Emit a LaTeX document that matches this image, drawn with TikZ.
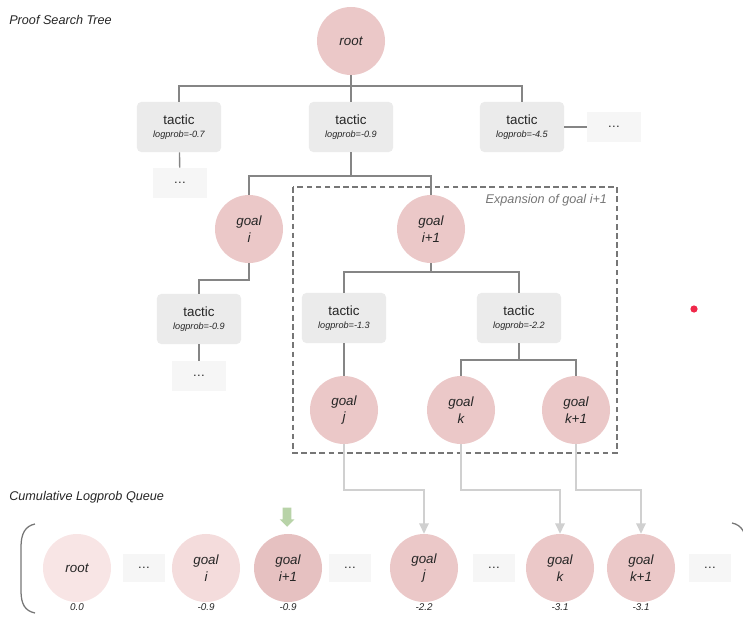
\documentclass[tikz,border=0pt]{standalone}
\usepackage{fontspec}
\setmainfont{Liberation Sans}
\usepackage{xcolor}
\usetikzlibrary{arrows.meta,positioning,calc,shapes.arrows}
\definecolor{goalpink}{HTML}{EBC8C8}
\definecolor{qpale}{HTML}{F8E5E5}
\definecolor{qlight}{HTML}{F4DCDC}
\definecolor{qdark}{HTML}{E6C1C1}
\definecolor{tacgray}{HTML}{EBEBEB}
\definecolor{dotsgray}{HTML}{F6F6F6}
\definecolor{edgegray}{HTML}{858585}
\definecolor{feedgray}{HTML}{D0D0D0}
\definecolor{ink}{HTML}{262626}
\definecolor{softgray}{HTML}{767676}
\definecolor{pickgreen}{HTML}{B8D3A8}
\definecolor{laser}{HTML}{F0284A}
\newcommand{\lp}[1]{\\[-1pt]{\fontsize{6.5}{7}\selectfont\itshape logprob=#1}}

\begin{document}
\begin{tikzpicture}[x=0.025cm, y=-0.025cm]

% pixel grid of the reference, y pointing down
\clip (0,0) rectangle (743,619);
\tikzset{
  goal/.style={circle, fill=goalpink, minimum size=1.7cm, inner sep=0pt, align=center,
               font=\fontsize{9.5}{12}\selectfont\itshape, text=ink},
  tacbox/.style={rounded corners=3pt, fill=tacgray, minimum width=2.1cm, minimum height=1.25cm,
                 align=center, font=\fontsize{9.5}{10}\selectfont, text=ink},
  dotsbox/.style={fill=dotsgray, minimum width=1.35cm, minimum height=0.75cm, inner sep=0pt,
                  font=\fontsize{9}{10}\selectfont, text=ink},
  qdots/.style={dotsbox, minimum width=1.05cm, minimum height=0.7cm},
  treeedge/.style={draw=edgegray, line width=1pt},
  feed/.style={draw=feedgray, line width=1pt, -{Triangle[length=2.6mm, width=2.4mm]}},
  logval/.style={font=\fontsize{7}{8}\selectfont\itshape, text=ink},
  sectitle/.style={font=\fontsize{9}{10}\selectfont\itshape, text=ink, anchor=west, inner sep=0pt}}

% section titles
\node[sectitle] (ttree) at (9,20) {Proof Search Tree};
\node[sectitle] (tqueue) at (9,497) {Cumulative Logprob Queue};

% expansion frame
\draw[softgray, line width=0.9pt, dash pattern=on 4pt off 2.5pt] (293,187) rectangle (617,453);
\node[anchor=north east, font=\fontsize{9}{10}\selectfont\itshape, text=softgray] (texp) at (612,189) {Expansion of goal i+1};

% level 0 / 1
\node[goal] (root) at (351,41) {root};
\node[tacbox] (tac1) at (179,127) {tactic\lp{-0.7}};
\node[tacbox] (tac2) at (351,127) {tactic\lp{-0.9}};
\node[tacbox] (tac3) at (522,127) {tactic\lp{-4.5}};
\node[dotsbox] (d1) at (614,127) {\dots};
\node[dotsbox] (d0) at (180,183) {\dots};
\coordinate (br0) at (351,86);
\draw[treeedge] (root) -- (br0) -| (tac1);
\draw[treeedge] (br0) -| (tac3);
\draw[treeedge] (br0) -- (tac2);
\draw[treeedge] (tac3) -- (d1);
\draw[treeedge] (tac1) -- (d0);

% level 2: goals of the middle tactic
\node[goal] (gi) at (249,229) {goal\\i};
\node[goal] (gi1) at (431,229) {goal\\i+1};
\coordinate (br1) at (351,176);
\draw[treeedge] (tac2) -- (br1) -| (gi);
\draw[treeedge] (br1) -| (gi1);

% left branch under goal i
\node[tacbox] (tacgi) at (199,319) {tactic\lp{-0.9}};
\node[dotsbox] (d2) at (199,376) {\dots};
\coordinate (br2) at (249,280);
\draw[treeedge] (gi) -- (br2) -| (tacgi);
\draw[treeedge] (tacgi) -- (d2);

% expansion of goal i+1
\node[tacbox] (tacj) at (344,318) {tactic\lp{-1.3}};
\node[tacbox] (tack) at (519,318) {tactic\lp{-2.2}};
\coordinate (br3) at (431,272);
\draw[treeedge] (gi1) -- (br3) -| (tacj);
\draw[treeedge] (br3) -| (tack);
\node[goal] (gj) at (344,410) {goal\\j};
\node[goal] (gk) at (461,410) {goal\\k};
\node[goal] (gk1) at (576,410) {goal\\k+1};
\coordinate (br4) at (519,360);
\draw[treeedge] (tacj) -- (gj);
\draw[treeedge] (tack) -- (br4) -| (gk);
\draw[treeedge] (br4) -| (gk1);

% queue, sorted by cumulative logprob
\node[goal, fill=qpale] (qroot) at (77,568) {root};
\node[qdots] (qd1) at (144,568) {\dots};
\node[goal, fill=qlight] (qgi) at (206,568) {goal\\i};
\node[goal, fill=qdark] (qgi1) at (288,568) {goal\\i+1};
\node[qdots] (qd2) at (350,568) {\dots};
\node[goal] (qgj) at (424,568) {goal\\j};
\node[qdots] (qd3) at (494,568) {\dots};
\node[goal] (qgk) at (560,568) {goal\\k};
\node[goal] (qgk1) at (641,568) {goal\\k+1};
\node[qdots] (qd4) at (710,568) {\dots};
\node[logval] (v1) at (77,607) {0.0};
\node[logval] (v2) at (206,607) {-0.9};
\node[logval] (v3) at (288,607) {-0.9};
\node[logval] (v4) at (424,607) {-2.2};
\node[logval] (v5) at (560,607) {-3.1};
\node[logval] (v6) at (641,607) {-3.1};

% brackets
\draw[softgray, line width=0.9pt] (35,524) .. controls (25,526) and (21,534) .. (21,547)
  -- (21,591) .. controls (21,604) and (25,611) .. (35,613);
\draw[softgray, line width=0.9pt] (732,523) .. controls (742,525) and (746,533) .. (747,546)
  -- (747,600);

% new goals pushed into the queue
\coordinate (fj) at (344,490);
\coordinate (fk) at (461,490);
\coordinate (fk1) at (576,490);
\draw[feed] (gj) -- (fj) -| (qgj);
\draw[feed] (gk) -- (fk) -| (qgk);
\draw[feed] (gk1) -- (fk1) -| (qgk1);

% next goal popped
\node[single arrow, fill=pickgreen, shape border rotate=270, inner sep=0.1cm,
      minimum height=0.48cm, single arrow head extend=0.08cm] (pick) at (287,515) {};

% pointer dot
\fill[laser] (694,309) circle[radius=0.09cm];

\end{tikzpicture}
\end{document}
